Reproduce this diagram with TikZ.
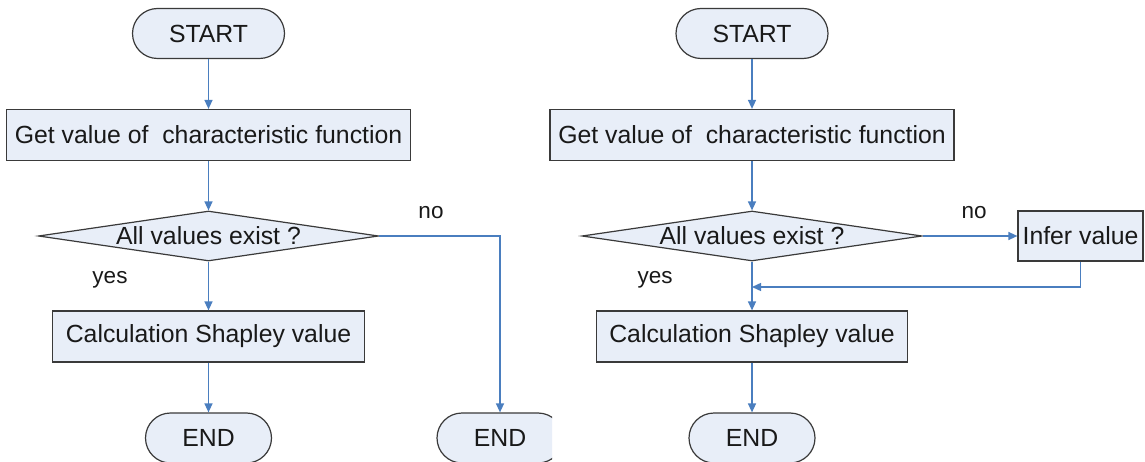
\documentclass[tikz,border=0pt]{standalone}
\usepackage{fontspec}
\setmainfont{Liberation Sans}
\usetikzlibrary{arrows.meta,shapes.geometric}
\definecolor{boxfill}{HTML}{E8EEF8}
\definecolor{boxline}{HTML}{3A3A3A}
\definecolor{arrowblue}{HTML}{4A7EBF}
\begin{document}
\begin{tikzpicture}[x=1pt,y=-1pt,
  every node/.style={font=\fontsize{24.8}{28}\selectfont, text=black!90},
  terminal/.style={draw=boxline, fill=boxfill, line width=1.2pt, rectangle, rounded corners=25pt, minimum width=126pt, minimum height=50pt, inner sep=0pt},
  process/.style={draw=boxline, fill=boxfill, line width=1.2pt, rectangle, minimum height=51pt, inner sep=0pt},
  decision/.style={draw=boxline, fill=boxfill, line width=1.2pt, diamond, minimum width=340pt, minimum height=50pt, inner sep=0pt},
  flow/.style={draw=arrowblue, line width=1.4pt, -{Triangle[length=9pt,width=8pt]}},
  lbl/.style={font=\fontsize{22.5}{26}\selectfont}
]
\useasboundingbox (0,0) rectangle (1145,462);
\fill[white] (0,0) rectangle (1145,462);

% ---------- left flowchart ----------
\node[terminal, minimum width=152pt] (s1) at (208.5,33.5) {START};
\node[process, minimum width=404pt] (g1) at (208.5,135) {Get value of\ \ characteristic function};
\node[decision, label={center:All values exist ?}] (d1) at (208.5,236) {};
\node[process, minimum width=312pt] (c1) at (208.5,336.5) {Calculation Shapley value};
\node[terminal] (e1) at (208.5,438) {END};
\begin{scope}
  \clip (0,0) rectangle (552,470);
  \node[terminal] (e1b) at (500,438) {END};
\end{scope}
\node[lbl] (y1) at (110,280) {yes};
\node[lbl] (n1) at (431,213) {no};

\draw[flow] (s1) -- (g1);
\draw[flow] (g1) -- (d1);
\draw[flow] (d1) -- (c1);
\draw[flow] (c1) -- (e1);
\draw[flow] (d1.east) -| (e1b.north);

% ---------- right flowchart ----------
\node[terminal, minimum width=152pt] (s2) at (752,33.5) {START};
\node[process, minimum width=404pt] (g2) at (752,135) {Get value of\ \ characteristic function};
\node[decision, label={center:All values exist ?}] (d2) at (752,236) {};
\node[process, minimum width=311pt] (c2) at (752,336.5) {Calculation Shapley value};
\node[terminal] (e2) at (752,438) {END};
\node[process, minimum width=125pt, minimum height=50pt] (inf) at (1080.5,236) {Infer value};
\node[lbl] (y2) at (655,280) {yes};
\node[lbl] (n2) at (974,213) {no};
\coordinate (m2) at (752,287);

\draw[flow] (s2) -- (g2);
\draw[flow] (g2) -- (d2);
\draw[flow] (d2) -- (c2);
\draw[flow] (c2) -- (e2);
\draw[flow] (d2.east) -- (inf.west);
\draw[flow] (inf.south) |- (m2);
\end{tikzpicture}
\end{document}
